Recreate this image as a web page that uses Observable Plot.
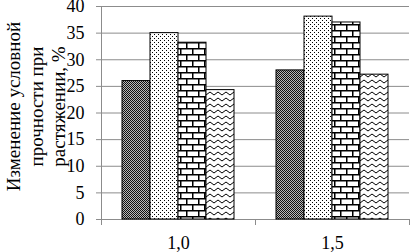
<!DOCTYPE html>
<html><head><meta charset="utf-8">
<script src="https://cdn.jsdelivr.net/npm/d3@7"></script>
<script src="https://cdn.jsdelivr.net/npm/@observablehq/plot@0.6"></script>
<style>body{margin:0;background:#fff}</style>
</head><body><div id="chart"></div>
<script>
const groups = ["1,0", "1,5"];
const series = ["s1", "s2", "s3", "s4"];
const valuesGroup1 = [26, 35, 33.2, 24.3];
const valuesGroup2 = [28, 38.1, 37, 27.2];
const yTicks = [0, 5, 10, 15, 20, 25, 30, 35, 40];
const yLabel = "Изменение условной\nпрочности при\nрастяжении, %";
const patternIds = ["p-cross", "p-dots", "p-brick", "p-wave"];

const groupValues = [valuesGroup1, valuesGroup2];
const data = groups.flatMap((g, i) => series.map((s, j) => ({group: g, series: s, value: groupValues[i][j]})));

const axisGray = "#8c8c8c";

const plot = Plot.plot({
  width: 411, height: 252,
  marginLeft: 101, marginRight: 2, marginTop: 6, marginBottom: 33,
  style: {fontFamily: "'Liberation Serif', 'Times New Roman', serif", fontSize: "18px", background: "white", color: "black"},
  fx: {domain: groups, padding: 0, label: null},
  x: {domain: series, paddingInner: 0, paddingOuter: 0.73, axis: null},
  y: {domain: [0, 40], label: null},
  color: {domain: series, range: patternIds.map(id => `url(#${id})`)},
  marks: [
    Plot.gridY(yTicks.filter(t => t > 0), {stroke: axisGray, strokeOpacity: 1}),
    Plot.ruleY([0], {stroke: axisGray}),
    Plot.frame({anchor: "left", stroke: axisGray, insetBottom: -5, facetAnchor: "left"}),
    Plot.frame({anchor: "left", stroke: axisGray, insetTop: 213, insetBottom: -5}),
    Plot.frame({anchor: "right", stroke: axisGray, insetTop: 213, insetBottom: -5}),
    Plot.axisY({ticks: yTicks, tickSize: 5, tickPadding: 12, stroke: axisGray, label: null, fontSize: 18}),
    Plot.axisFx({anchor: "bottom", tickSize: 0, tickPadding: 17, label: null, fontSize: 18}),
    Plot.barY(data, {fx: "group", x: "series", y: "value", fill: "series", stroke: "black", strokeWidth: 1}),
    Plot.text([yLabel], {fx: () => groups[0], frameAnchor: "left", textAnchor: "middle", rotate: -90, dx: -66, dy: -6.5, lineHeight: 1.18, fontSize: 19, fill: "black"})
  ]
});

const defs = d3.select(plot).insert("defs", ":first-child");
// dark crosshatch
const p1 = defs.append("pattern").attr("id", "p-cross").attr("patternUnits", "userSpaceOnUse").attr("width", 2).attr("height", 2);
p1.append("rect").attr("width", 2).attr("height", 2).attr("fill", "#b8b8b8");
p1.append("rect").attr("width", 1).attr("height", 1).attr("fill", "#111");
p1.append("rect").attr("x", 1).attr("y", 1).attr("width", 1).attr("height", 1).attr("fill", "#111");
// dots
const p2 = defs.append("pattern").attr("id", "p-dots").attr("patternUnits", "userSpaceOnUse").attr("width", 4).attr("height", 4);
p2.append("rect").attr("width", 4).attr("height", 4).attr("fill", "#fff");
p2.append("rect").attr("width", 1).attr("height", 1).attr("fill", "#000");
p2.append("rect").attr("x", 2).attr("y", 2).attr("width", 1).attr("height", 1).attr("fill", "#000");
// brick
const p3 = defs.append("pattern").attr("id", "p-brick").attr("patternUnits", "userSpaceOnUse").attr("width", 12).attr("height", 12);
p3.append("rect").attr("width", 12).attr("height", 12).attr("fill", "#fff");
p3.append("path").attr("d", "M0,0.75H12M0,6.75H12M0.75,0V6.75M6.75,6.75V12").attr("stroke", "#000").attr("stroke-width", 1.5).attr("fill", "none");
// wave
const p4 = defs.append("pattern").attr("id", "p-wave").attr("patternUnits", "userSpaceOnUse").attr("width", 8).attr("height", 6);
p4.append("rect").attr("width", 8).attr("height", 6).attr("fill", "#fff");
p4.append("path").attr("d", "M0,3.5Q2,0.5 4,3.5T8,3.5").attr("stroke", "#000").attr("stroke-width", 1).attr("fill", "none");

document.getElementById("chart").appendChild(plot);
</script>
</body></html>
